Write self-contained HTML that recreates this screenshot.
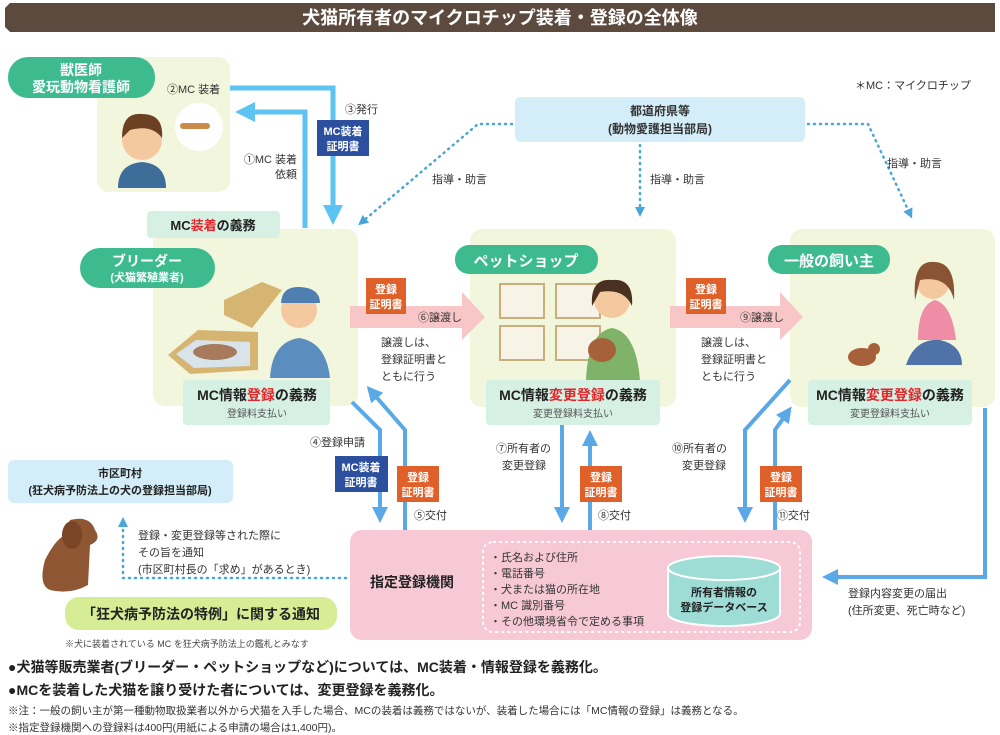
<!DOCTYPE html>
<html><head><meta charset="utf-8">
<style>
html,body{margin:0;padding:0;background:#fff;}
svg{display:block;font-family:"Liberation Sans","Noto Sans CJK JP",sans-serif;}
.b{font-weight:bold;}
</style></head>
<body>
<svg width="1000" height="735" viewBox="0 0 1000 735" xmlns="http://www.w3.org/2000/svg">
<defs>
<marker id="ah" markerWidth="4" markerHeight="4" refX="2" refY="2" orient="auto" markerUnits="strokeWidth"><path d="M0,0 L4,2 L0,4z" fill="#5aa9e6"/></marker>
<marker id="ahl" markerWidth="4" markerHeight="4" refX="2" refY="2" orient="auto" markerUnits="strokeWidth"><path d="M0,0 L4,2 L0,4z" fill="#5cc3f2"/></marker>
<marker id="ahd" markerWidth="10" markerHeight="10" refX="5" refY="5" orient="auto" markerUnits="userSpaceOnUse"><path d="M0,0 L10,5 L0,10z" fill="#4aa5d8"/></marker>
</defs>
<!-- title -->
<path d="M10,3 H995 V32 H10 L5,27 V8z" fill="#5c4a3e"/>
<text x="500" y="24" text-anchor="middle" fill="#fff" font-size="18" class="b">犬猫所有者のマイクロチップ装着・登録の全体像</text>
<text x="855" y="89" font-size="11" fill="#333">＊MC：マイクロチップ</text>

<!-- vet -->
<rect x="97" y="57" width="133" height="135" rx="12" fill="#f2f6dc"/>
<rect x="8" y="57" width="147" height="41" rx="20" fill="#3dbb8f"/>
<text x="81" y="75" text-anchor="middle" fill="#fff" font-size="14" class="b">獣医師</text>
<text x="81" y="92" text-anchor="middle" fill="#fff" font-size="14" class="b">愛玩動物看護師</text>
<text x="167" y="93" font-size="11" fill="#333">②MC 装着</text>
<circle cx="199" cy="127" r="24" fill="#fff"/>
<rect x="180" y="123" width="30" height="6" rx="3" fill="#c98a4a"/>
<circle cx="142" cy="140" r="20" fill="#f5c9a0"/>
<path d="M122,138 Q122,112 142,114 Q164,114 162,138 Q152,124 130,130z" fill="#6b4023"/>
<path d="M118,188 Q118,164 142,162 Q166,164 166,188z" fill="#3f6d9a"/>

<!-- top arrows -->
<path d="M230,88 H333 V215" fill="none" stroke="#5cc3f2" stroke-width="5" marker-end="url(#ahl)"/>
<path d="M305,228 V112 H245" fill="none" stroke="#5cc3f2" stroke-width="5" marker-end="url(#ahl)"/>
<text x="345" y="113" font-size="11" fill="#333">③発行</text>
<rect x="317" y="120" width="52" height="36" fill="#2c4f9e"/>
<text x="343" y="135" text-anchor="middle" fill="#fff" font-size="11" class="b">MC装着</text>
<text x="343" y="150" text-anchor="middle" fill="#fff" font-size="11" class="b">証明書</text>
<text x="297" y="163" text-anchor="end" font-size="11" fill="#333">①MC 装着</text>
<text x="297" y="178" text-anchor="end" font-size="11" fill="#333">依頼</text>

<!-- prefecture -->
<rect x="515" y="97" width="290" height="45" rx="6" fill="#d4eef9"/>
<text x="660" y="115" text-anchor="middle" font-size="12" class="b" fill="#333">都道府県等</text>
<text x="660" y="133" text-anchor="middle" font-size="12" class="b" fill="#333">(動物愛護担当部局)</text>
<g fill="none" stroke="#4aa5d8" stroke-width="2.5" stroke-dasharray="1,5" stroke-linecap="round">
<path d="M512,124 H478 L362,222" marker-end="url(#ahd)"/>
<path d="M640,145 V212" marker-end="url(#ahd)"/>
<path d="M808,124 H868 L910,214" marker-end="url(#ahd)"/>
<path d="M346,578 H123 V522" marker-end="url(#ahd)"/>
</g>
<text x="432" y="183" font-size="11" fill="#333">指導・助言</text>
<text x="650" y="183" font-size="11" fill="#333">指導・助言</text>
<text x="887" y="167" font-size="11" fill="#333">指導・助言</text>

<!-- breeder -->
<rect x="153" y="229" width="205" height="177" rx="12" fill="#f2f6dc"/>
<rect x="147" y="211" width="133" height="27" rx="4" fill="#d7f0e4"/>
<text x="213" y="230" text-anchor="middle" font-size="13" class="b" fill="#222">MC<tspan fill="#e3262b">装着</tspan>の義務</text>
<rect x="80" y="248" width="135" height="40" rx="20" fill="#3dbb8f"/>
<text x="147" y="266" text-anchor="middle" fill="#fff" font-size="14" class="b">ブリーダー</text>
<text x="147" y="281" text-anchor="middle" fill="#fff" font-size="11" class="b">(犬猫繁殖業者)</text>
<path d="M224,300 L262,282 L282,290 L252,328 L224,315z" fill="#d6b572"/>
<path d="M168,355 L198,330 L258,332 L258,370 L190,374z" fill="#d6b572"/>
<path d="M176,354 L196,340 L250,342 L250,366 L194,368z" fill="#d9e3ea"/>
<ellipse cx="215" cy="352" rx="22" ry="8" fill="#a67a5a"/>
<circle cx="299" cy="310" r="18" fill="#f5c9a0"/>
<path d="M281,303 Q282,286 300,287 Q320,288 320,303z" fill="#4e7fb0"/>
<path d="M270,378 Q272,342 299,338 Q326,342 330,378z" fill="#5b8dbf"/>
<rect x="183" y="380" width="147" height="45" rx="4" fill="#d7f0e4"/>
<text x="257" y="400" text-anchor="middle" font-size="14" class="b" fill="#222">MC情報<tspan fill="#e3262b">登録</tspan>の義務</text>
<text x="257" y="417" text-anchor="middle" font-size="10" fill="#555">登録料支払い</text>

<!-- pet shop -->
<rect x="470" y="229" width="206" height="178" rx="12" fill="#f2f6dc"/>
<rect x="455" y="245" width="143" height="29" rx="14" fill="#3dbb8f"/>
<text x="526" y="266" text-anchor="middle" fill="#fff" font-size="15" class="b">ペットショップ</text>
<g fill="#f7f3e6" stroke="#c9b07a" stroke-width="2">
<rect x="500" y="284" width="44" height="34"/><rect x="556" y="284" width="44" height="34"/>
<rect x="500" y="326" width="44" height="34"/><rect x="556" y="326" width="44" height="34"/>
</g>
<circle cx="612" cy="300" r="18" fill="#f5c9a0"/>
<path d="M592,306 Q590,278 612,280 Q634,278 632,306 Q624,288 600,292z" fill="#4a3020"/>
<path d="M586,380 Q588,332 612,328 Q636,332 640,380z" fill="#7fb36a"/>
<ellipse cx="602" cy="350" rx="14" ry="12" fill="#a6603a"/>
<rect x="486" y="380" width="174" height="45" rx="4" fill="#d7f0e4"/>
<text x="573" y="400" text-anchor="middle" font-size="14" class="b" fill="#222">MC情報<tspan fill="#e3262b">変更登録</tspan>の義務</text>
<text x="573" y="417" text-anchor="middle" font-size="10" fill="#555">変更登録料支払い</text>

<!-- owner -->
<rect x="790" y="229" width="205" height="178" rx="12" fill="#f2f6dc"/>
<rect x="768" y="245" width="122" height="29" rx="14" fill="#3dbb8f"/>
<text x="829" y="266" text-anchor="middle" fill="#fff" font-size="15" class="b">一般の飼い主</text>
<circle cx="933" cy="283" r="16" fill="#f5c9a0"/>
<path d="M915,300 Q912,260 934,262 Q956,262 954,300 Q948,275 920,280z" fill="#8a5434"/>
<path d="M918,340 Q918,305 935,300 Q952,305 956,340z" fill="#ef8ca6"/>
<path d="M906,365 Q915,338 940,340 Q962,345 962,365z" fill="#4f73a8"/>
<ellipse cx="862" cy="357" rx="14" ry="9" fill="#a6603a"/>
<circle cx="874" cy="349" r="6" fill="#a6603a"/>
<rect x="808" y="380" width="164" height="45" rx="4" fill="#d7f0e4"/>
<text x="890" y="400" text-anchor="middle" font-size="14" class="b" fill="#222">MC情報<tspan fill="#e3262b">変更登録</tspan>の義務</text>
<text x="890" y="417" text-anchor="middle" font-size="10" fill="#555">変更登録料支払い</text>

<!-- transfer arrows -->
<path d="M350,306 H462 V292 L485,317 L462,340 V328 H350z" fill="#f8c6c6"/>
<path d="M670,306 H780 V292 L803,317 L780,340 V328 H670z" fill="#f8c6c6"/>
<rect x="366" y="278" width="40" height="36" fill="#e0602a"/>
<text x="386" y="293" text-anchor="middle" fill="#fff" font-size="11" class="b">登録</text>
<text x="386" y="308" text-anchor="middle" fill="#fff" font-size="11" class="b">証明書</text>
<rect x="686" y="278" width="40" height="36" fill="#e0602a"/>
<text x="706" y="293" text-anchor="middle" fill="#fff" font-size="11" class="b">登録</text>
<text x="706" y="308" text-anchor="middle" fill="#fff" font-size="11" class="b">証明書</text>
<text x="418" y="321" font-size="11" fill="#333">⑥譲渡し</text>
<text x="740" y="321" font-size="11" fill="#333">⑨譲渡し</text>
<g font-size="11" fill="#333">
<text x="381" y="346">譲渡しは、</text><text x="381" y="363">登録証明書と</text><text x="381" y="380">ともに行う</text>
<text x="701" y="346">譲渡しは、</text><text x="701" y="363">登録証明書と</text><text x="701" y="380">ともに行う</text>
</g>

<!-- vertical flows -->
<g fill="none" stroke="#5aa9e6" stroke-width="4">
<path d="M352,402 L380,430 V515" marker-end="url(#ah)"/>
<path d="M405,532 V430 L372,392" marker-end="url(#ah)"/>
<path d="M562,425 V515" marker-end="url(#ah)"/>
<path d="M590,532 V438" marker-end="url(#ah)"/>
<path d="M790,380 L745,430 V515" marker-end="url(#ah)"/>
<path d="M775,532 V430 L787,413" marker-end="url(#ah)"/>
<path d="M985,408 V577 H830" marker-end="url(#ah)"/>
</g>
<text x="310" y="446" font-size="11" fill="#333">④登録申請</text>
<rect x="335" y="456" width="53" height="36" fill="#2c4f9e"/>
<text x="361" y="471" text-anchor="middle" fill="#fff" font-size="11" class="b">MC装着</text>
<text x="361" y="486" text-anchor="middle" fill="#fff" font-size="11" class="b">証明書</text>
<g fill="#e0602a"><rect x="397" y="466" width="42" height="36"/><rect x="580" y="466" width="42" height="36"/><rect x="760" y="466" width="42" height="36"/></g>
<g fill="#fff" font-size="11" class="b" text-anchor="middle">
<text x="418" y="481">登録</text><text x="418" y="496">証明書</text>
<text x="601" y="481">登録</text><text x="601" y="496">証明書</text>
<text x="781" y="481">登録</text><text x="781" y="496">証明書</text>
</g>
<g font-size="11" fill="#333">
<text x="414" y="519">⑤交付</text><text x="598" y="519">⑧交付</text><text x="777" y="519">⑪交付</text>
<text x="496" y="452">⑦所有者の</text><text x="502" y="469">変更登録</text>
<text x="672" y="452">⑩所有者の</text><text x="682" y="469">変更登録</text>
<text x="848" y="597">登録内容変更の届出</text><text x="848" y="614">(住所変更、死亡時など)</text>
</g>

<!-- registry -->
<rect x="350" y="530" width="462" height="110" rx="12" fill="#f7c9d7"/>
<text x="370" y="587" font-size="14" class="b" fill="#222">指定登録機関</text>
<rect x="483" y="542" width="317" height="90" rx="10" fill="none" stroke="#fff" stroke-width="2" stroke-dasharray="3,3"/>
<g font-size="11" fill="#333">
<text x="490" y="561">・氏名および住所</text><text x="490" y="577">・電話番号</text><text x="490" y="593">・犬または猫の所在地</text><text x="490" y="609">・MC 識別番号</text><text x="490" y="625">・その他環境省令で定める事項</text>
</g>
<path d="M668,568 V614 A56,12 0 0 0 780,614 V568z" fill="#9edcd6" stroke="#fff" stroke-width="2"/>
<ellipse cx="724" cy="568" rx="56" ry="12" fill="#9edcd6" stroke="#fff" stroke-width="2"/>
<text x="724" y="596" text-anchor="middle" font-size="11" class="b" fill="#222">所有者情報の</text>
<text x="724" y="611" text-anchor="middle" font-size="11" class="b" fill="#222">登録データベース</text>

<!-- municipality -->
<rect x="8" y="460" width="225" height="43" rx="6" fill="#d4eef9"/>
<text x="120" y="477" text-anchor="middle" font-size="11" class="b" fill="#222">市区町村</text>
<text x="120" y="494" text-anchor="middle" font-size="11" class="b" fill="#222">(狂犬病予防法上の犬の登録担当部局)</text>
<g font-size="11" fill="#333">
<text x="138" y="539">登録・変更登録等された際に</text><text x="138" y="556">その旨を通知</text><text x="138" y="573">(市区町村長の「求め」があるとき)</text>
</g>
<!-- dog -->
<path d="M70,520 Q90,515 95,530 Q102,540 90,545 L88,585 Q70,595 50,590 Q38,585 45,560 Q55,540 65,535z" fill="#8f5634"/>
<ellipse cx="72" cy="535" rx="10" ry="14" fill="#7a4527"/>
<rect x="65" y="597" width="272" height="33" rx="14" fill="#d6ec95"/>
<text x="201" y="619" text-anchor="middle" font-size="14" class="b" fill="#222">「狂犬病予防法の特例」に関する通知</text>
<text x="65" y="647" font-size="9" fill="#444">※犬に装着されている MC を狂犬病予防法上の鑑札とみなす</text>

<!-- bottom text -->
<text x="8" y="672" font-size="14" class="b" fill="#222">●犬猫等販売業者(ブリーダー・ペットショップなど)については、MC装着・情報登録を義務化。</text>
<text x="8" y="695" font-size="14" class="b" fill="#222">●MCを装着した犬猫を譲り受けた者については、変更登録を義務化。</text>
<text x="8" y="714" font-size="10.5" fill="#333">※注：一般の飼い主が第一種動物取扱業者以外から犬猫を入手した場合、MCの装着は義務ではないが、装着した場合には「MC情報の登録」は義務となる。</text>
<text x="8" y="731" font-size="10.5" fill="#333">※指定登録機関への登録料は400円(用紙による申請の場合は1,400円)。</text>
</svg>
</body></html>
